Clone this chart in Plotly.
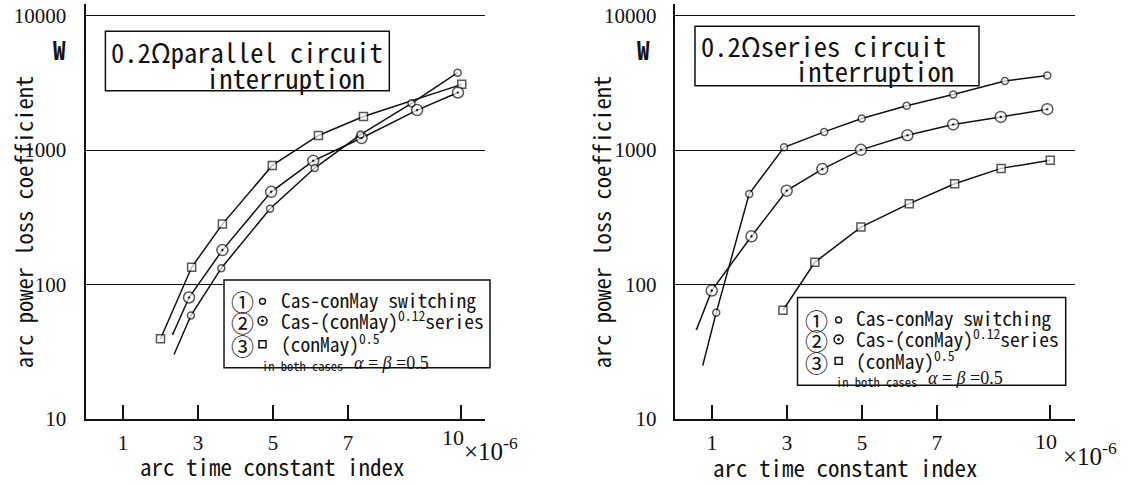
import plotly.graph_objects as go

# ---------------- data ----------------
x_ticks = [1, 3, 5, 7, 10]
y_ticks = [10, 100, 1000, 10000]
y_tick_text = ["10", "100", "1000", "10000"]

# left panel: 0.2 Ohm parallel circuit interruption
par_sw_x = [2.36, 2.81, 3.62, 4.92, 6.11, 7.33, 8.69, 9.92]
par_sw_y = [30, 58.6, 132, 366, 735, 1306, 2233, 3776]
par_ser_x = [2.33, 2.76, 3.65, 4.95, 6.07, 7.36, 8.84, 9.93]
par_ser_y = [42.7, 79.8, 180, 489, 832, 1230, 1987, 2686]
par_cm_x = [2.0, 2.83, 3.65, 4.98, 6.21, 7.41, 10.03]
par_cm_y = [39.3, 134, 281, 769, 1285, 1778, 3090]

# right panel: 0.2 Ohm series circuit interruption
ser_sw_x = [0.75, 1.11, 1.99, 2.92, 3.99, 4.99, 6.19, 7.43, 8.81, 9.94]
ser_sw_y = [24.8, 61.5, 472, 1050, 1367, 1718, 2140, 2600, 3274, 3600]
ser_ser_x = [0.59, 0.99, 2.05, 2.99, 3.94, 4.97, 6.21, 7.43, 8.70, 9.94]
ser_ser_y = [46.5, 89.8, 228, 499, 722, 1005, 1291, 1553, 1767, 2018]
ser_cm_x = [2.89, 3.74, 4.97, 6.26, 7.47, 8.71, 10.02]
ser_cm_y = [64.1, 146, 267, 399, 561, 731, 840]

titles = [["0.2Ωparallel circuit", "interruption"],
          ["0.2Ωseries circuit", "interruption"]]
legend_text = ["Cas-conMay switching",
               "Cas-(conMay)<sup>0.12</sup>series",
               "(conMay)<sup>0.5</sup>"]
legend_nums = ["①", "②", "③"]
x_title = "arc time constant index"
y_title = "arc power loss coefficient"

# ---------------- styling ----------------
W, H = 1131, 485
TXT = "Noto Sans Mono CJK JP, Noto Sans CJK JP, Liberation Mono, monospace"
NUM = "Liberation Serif, DejaVu Serif, serif"
BLACK = "#111111"


def px(x):
    return x / W


def py(y):
    return 1 - y / H


fig = go.Figure()

styles = {
    "sw": dict(symbol="circle", size=7),
    "ser": dict(symbol="circle-dot", size=11),
    "cm": dict(symbol="square", size=8),
}


def add_series(xs, ys, kind, axis, lead_line):
    st = styles[kind]
    sizes = [st["size"]] * len(xs)
    if lead_line:
        sizes[0] = 0
    fig.add_trace(go.Scatter(
        x=xs, y=ys, mode="lines+markers",
        xaxis="x" + axis, yaxis="y" + axis,
        line=dict(color=BLACK, width=1.5),
        marker=dict(symbol=st["symbol"], size=sizes, color="white",
                    line=dict(color=BLACK, width=1.5)),
        hoverinfo="x+y", showlegend=False,
    ))


add_series(par_cm_x, par_cm_y, "cm", "", False)
add_series(par_ser_x, par_ser_y, "ser", "", True)
add_series(par_sw_x, par_sw_y, "sw", "", True)
add_series(ser_cm_x, ser_cm_y, "cm", "2", False)
add_series(ser_ser_x, ser_ser_y, "ser", "2", True)
add_series(ser_sw_x, ser_sw_y, "sw", "2", True)

# panel geometry in pixels
panels = [
    dict(x0=85.5, x1=485.0, xr=10.65, ytitle_x=23, xtitle_x=272.5, xtitle_y=478,
         w_x=59, w_y=50, ytl_standoff=13,
         box=(105.4, 32, 389.3, 93), t1=(109, 53), t2=(203.6, 79),
         lbox=(224, 287, 490, 377), ly=[307, 328, 352], lsmall=375,
         lnum_x=229, lmk_x=262.5, ltxt_x=278.6, lsm_x=259.6,
         ten_x=9.8, ten_y=449, e_x=462, e_y=460),
    dict(x0=674.6, x1=1075.4, xr=10.69, ytitle_x=601, xtitle_x=845, xtitle_y=479,
         w_x=643.3, w_y=50, ytl_standoff=12,
         box=(695, 27, 979, 88), t1=(699.3, 47), t2=(793.2, 72),
         lbox=(797.5, 305, 1065.7, 395), ly=[326, 347, 369], lsmall=391,
         lnum_x=803, lmk_x=838.6, ltxt_x=854, lsm_x=833.6,
         ten_x=9.9, ten_y=453, e_x=1061, e_y=466),
]

Y_BOT, Y_TOP = 429.2, 3.9
layout = dict(
    width=W, height=H, margin=dict(l=0, r=0, t=0, b=0),
    paper_bgcolor="white", plot_bgcolor="white", showlegend=False,
)
ann = []
shapes = []
for i, p in enumerate(panels):
    sfx = "" if i == 0 else "2"
    layout["xaxis" + sfx] = dict(
        domain=[px(p["x0"]), px(p["x1"])], range=[0, p["xr"]],
        anchor="y" + sfx, showline=True, linecolor=BLACK, linewidth=2,
        ticks="inside", ticklen=14, tickwidth=2, tickcolor=BLACK,
        tickvals=x_ticks,
        ticktext=[str(v) if v != 10 else " " for v in x_ticks],
        tickfont=dict(family=NUM, size=21, color=BLACK),
        ticklabelstandoff=4,
        showgrid=False, zeroline=False, fixedrange=True,
    )
    layout["yaxis" + sfx] = dict(
        domain=[py(Y_BOT), py(Y_TOP)], type="log", range=[1, 4.09],
        anchor="x" + sfx, showline=True, linecolor=BLACK, linewidth=2,
        ticks="", tickvals=y_ticks, ticktext=y_tick_text,
        tickfont=dict(family=NUM, size=21, color=BLACK),
        ticklabelstandoff=p["ytl_standoff"],
        showgrid=True, gridcolor=BLACK, gridwidth=1.2, zeroline=False,
        fixedrange=True,
    )
    # last x tick label, set slightly off its tick as in the original
    ann.append(dict(text="10", x=p["ten_x"], xref="x" + sfx, y=py(p["ten_y"]),
                    yref="paper", showarrow=False, xanchor="center",
                    yanchor="middle", font=dict(family=NUM, size=22, color=BLACK)))
    # axis titles
    ann.append(dict(text=y_title, x=px(p["ytitle_x"]), y=py(228), xref="paper",
                    yref="paper", textangle=-90, showarrow=False,
                    xanchor="center", yanchor="middle",
                    font=dict(family=TXT, size=22.5, color=BLACK)))
    ann.append(dict(text=x_title, x=px(p["xtitle_x"]), y=py(p["xtitle_y"]),
                    xref="paper", yref="paper", showarrow=False,
                    xanchor="center", yanchor="middle",
                    font=dict(family=TXT, size=23, color=BLACK)))
    ann.append(dict(text="<b>W</b>", x=px(p["w_x"]), y=py(p["w_y"]), xref="paper",
                    yref="paper", showarrow=False, xanchor="center",
                    yanchor="middle", font=dict(family=TXT, size=25, color=BLACK)))
    ann.append(dict(text="×10<sup>-6</sup>", x=px(p["e_x"]), y=py(p["e_y"]),
                    xref="paper", yref="paper", showarrow=False, xanchor="left",
                    yanchor="middle", font=dict(family=NUM, size=25, color=BLACK)))
    # title box
    bx0, by0, bx1, by1 = p["box"]
    shapes.append(dict(type="rect", xref="paper", yref="paper",
                       x0=px(bx0), x1=px(bx1), y0=py(by0), y1=py(by1),
                       line=dict(color=BLACK, width=1.5), fillcolor="white"))
    for line, pos in zip(titles[i], [p["t1"], p["t2"]]):
        ann.append(dict(text=line, x=px(pos[0]), y=py(pos[1]), xref="paper",
                        yref="paper", showarrow=False, xanchor="left",
                        yanchor="middle",
                        font=dict(family=TXT, size=26.5, color=BLACK)))
    # legend box
    lx0, ly0, lx1, ly1 = p["lbox"]
    shapes.append(dict(type="rect", xref="paper", yref="paper",
                       x0=px(lx0), x1=px(lx1), y0=py(ly0), y1=py(ly1),
                       line=dict(color=BLACK, width=1.5), fillcolor="white"))
    for k, (num, txt, yy) in enumerate(zip(legend_nums, legend_text, p["ly"])):
        ann.append(dict(text=num, x=px(p["lnum_x"]), y=py(yy + 2),
                        xref="paper", yref="paper", showarrow=False,
                        xanchor="left", yanchor="middle",
                        font=dict(family=TXT, size=23, color=BLACK)))
        ann.append(dict(text=txt, x=px(p["ltxt_x"]), y=py(yy), xref="paper",
                        yref="paper", showarrow=False, xanchor="left",
                        yanchor="middle",
                        font=dict(family=TXT, size=19.5, color=BLACK)))
        cx = p["lmk_x"]
        cy = yy + (2 if k == 0 else 1)
        if k == 0:
            r = 3
            shapes.append(dict(type="circle", xref="paper", yref="paper",
                               x0=px(cx - r), x1=px(cx + r), y0=py(cy - r),
                               y1=py(cy + r), line=dict(color=BLACK, width=1.5)))
        elif k == 1:
            r = 4.5
            shapes.append(dict(type="circle", xref="paper", yref="paper",
                               x0=px(cx - r), x1=px(cx + r), y0=py(cy - r),
                               y1=py(cy + r), line=dict(color=BLACK, width=1.5)))
            r = 1
            shapes.append(dict(type="circle", xref="paper", yref="paper",
                               x0=px(cx - r), x1=px(cx + r), y0=py(cy - r),
                               y1=py(cy + r), fillcolor=BLACK,
                               line=dict(color=BLACK, width=1)))
        else:
            r = 3.5
            shapes.append(dict(type="rect", xref="paper", yref="paper",
                               x0=px(cx - r), x1=px(cx + r), y0=py(cy - r),
                               y1=py(cy + r), line=dict(color=BLACK, width=1.5)))
    ann.append(dict(text="in both cases", x=px(p["lsm_x"]), y=py(p["lsmall"]),
                    xref="paper", yref="paper", showarrow=False, xanchor="left",
                    yanchor="middle", font=dict(family=TXT, size=12.5, color=BLACK)))
    ann.append(dict(text="<i>α</i> = <i>β</i> =0.5", x=px(p["lsm_x"] + 92),
                    y=py(p["lsmall"] - 3), xref="paper", yref="paper",
                    showarrow=False, xanchor="left", yanchor="middle",
                    font=dict(family=NUM, size=18, color=BLACK)))

layout["annotations"] = ann
layout["shapes"] = shapes
fig.update_layout(**layout)
fig.write_html("out.html")
